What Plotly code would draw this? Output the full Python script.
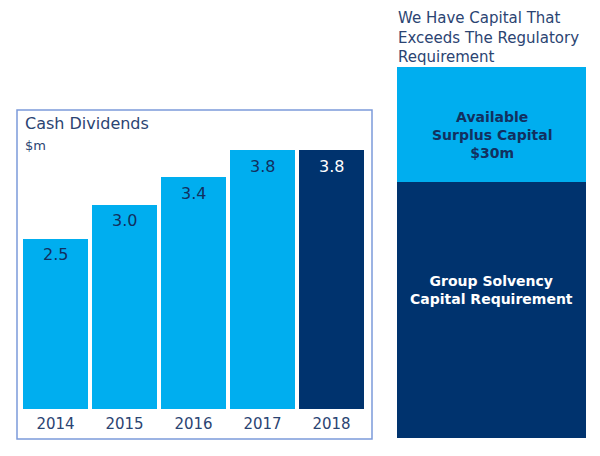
import plotly.graph_objects as go

years = ["2014", "2015", "2016", "2017", "2018"]
dividends = [2.5, 3.0, 3.4, 3.8, 3.8]
div_labels = ["2.5", "3.0", "3.4", "3.8", "3.8"]
bar_colors = ["#00AEEF", "#00AEEF", "#00AEEF", "#00AEEF", "#00336E"]
label_colors = ["#12305F", "#12305F", "#12305F", "#12305F", "#FFFFFF"]

capital_cat = ["Capital"]
requirement = [67]
surplus = [30]
title_lines = ["We Have Capital That", "Exceeds The Regulatory", "Requirement"]

# the page body has an 8px margin, so the figure is 592x448 placed at (8,8)
W, H, OFF = 592, 448, 8
def px(x): return (x - OFF) / W
def py(y): return (H + OFF - y) / H

FONT = "DejaVu Sans"
NAVY = "#12305F"
TXT = "#2B4472"

fig = go.Figure()

fig.add_trace(go.Bar(
    x=years, y=dividends, marker=dict(color=bar_colors, line=dict(width=0)),
    xaxis="x", yaxis="y", showlegend=False, hoverinfo="skip",
))

fig.add_trace(go.Bar(
    x=capital_cat, y=requirement, marker=dict(color="#00336E", line=dict(width=0)),
    width=1, xaxis="x2", yaxis="y2", showlegend=False, hoverinfo="skip",
))
fig.add_trace(go.Bar(
    x=capital_cat, y=surplus, marker=dict(color="#00AEEF", line=dict(width=0)),
    width=1, xaxis="x2", yaxis="y2", showlegend=False, hoverinfo="skip",
))

ymax_left = (409 - 120) / 68.1
fig.update_layout(
    width=W, height=H, margin=dict(l=0, r=0, t=0, b=0),
    paper_bgcolor="white", plot_bgcolor="white",
    barmode="stack", bargap=0.06,
    font=dict(family=FONT, color=TXT),
    xaxis=dict(type="category", domain=[px(21), px(366)], range=[-0.5, 4.5],
               showgrid=False, zeroline=False, showline=False,
               ticks="", ticklabelstandoff=4,
               tickfont=dict(family=FONT, size=15, color=TXT), fixedrange=True),
    yaxis=dict(domain=[py(409), py(120)], range=[0, ymax_left], visible=False, fixedrange=True),
    xaxis2=dict(type="category", domain=[px(397), px(586)], range=[-0.5, 0.5],
                visible=False, fixedrange=True),
    yaxis2=dict(domain=[py(438), py(67)], range=[0, requirement[0] + surplus[0]],
                visible=False, fixedrange=True),
)

# value labels just inside the top of each bar (x = category index)
for i, (v, lab, col) in enumerate(zip(dividends, div_labels, label_colors)):
    fig.add_annotation(text=lab, xref="x", yref="y", x=i, y=v, yanchor="middle",
                       yshift=-16, showarrow=False,
                       font=dict(family=FONT, size=16, color=col))

fig.add_shape(type="rect", xref="paper", yref="paper",
              x0=px(17), x1=px(372), y0=py(439), y1=py(110),
              line=dict(color="#7C9BDA", width=1.5), fillcolor="rgba(0,0,0,0)")

fig.add_annotation(text="Cash Dividends", xref="paper", yref="paper",
                   x=px(23), y=py(124), xanchor="left", yanchor="middle", showarrow=False,
                   font=dict(family=FONT, size=16, color=TXT))
fig.add_annotation(text="$m", xref="paper", yref="paper",
                   x=px(23), y=py(145), xanchor="left", yanchor="middle", showarrow=False,
                   font=dict(family=FONT, size=13, color=TXT))
fig.add_annotation(text="<br>".join(title_lines), xref="paper", yref="paper",
                   x=px(396), y=py(37), xanchor="left", yanchor="middle", align="left",
                   showarrow=False, font=dict(family=FONT, size=15, color=TXT))

fig.add_annotation(text="<b>Available<br>Surplus Capital<br>$30m</b>", xref="x2", yref="y2",
                   x=0, y=requirement[0] + surplus[0] / 2, yshift=-11,
                   showarrow=False, align="center",
                   font=dict(family=FONT, size=14, color=NAVY))
fig.add_annotation(text="<b>Group Solvency<br>Capital Requirement</b>", xref="x2", yref="y2",
                   x=0, y=requirement[0] / 2, yshift=20,
                   showarrow=False, align="center",
                   font=dict(family=FONT, size=14, color="white"))

fig.write_html("out.html")
